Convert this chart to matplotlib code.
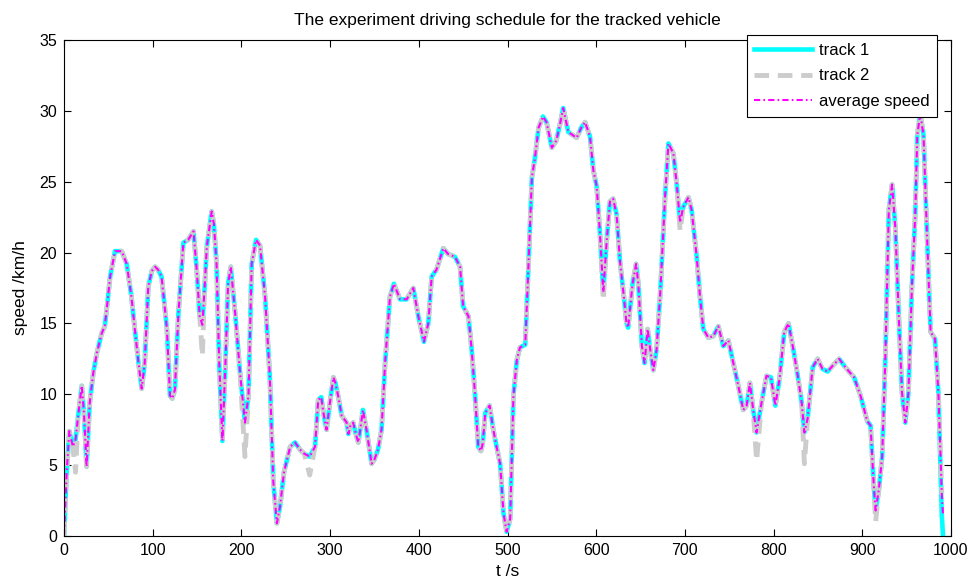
import numpy as np
import matplotlib.pyplot as plt

plt.rcParams['font.family'] = ['Liberation Sans', 'DejaVu Sans']

# time axis (s) and average speed (km/h)
time_s = [
    0, 3, 6, 10, 13, 16, 20, 22.5, 25.5, 29, 33, 37, 42.5, 46, 49, 52, 57.5, 65,
    70.7, 76, 80, 84, 87.6, 91, 95, 99, 102.6, 106, 110, 113, 116, 119.5, 122,
    125, 129, 134.6, 140, 146, 149.6, 153, 156, 158.5, 161, 166.5, 169, 172, 175,
    178.6, 182, 185, 188, 193, 198.5, 204, 208, 211.6, 216.5, 221, 226.7, 232,
    236, 240, 243.6, 248, 255, 260.5, 266, 271, 277, 283, 286.6, 290, 293, 296,
    300, 303.7, 306, 309, 313, 318.7, 320.6, 323, 326, 329, 331.8, 334, 337, 341,
    346.8, 350, 354, 358, 362, 367.5, 372, 378.8, 386.3, 393.8, 399.5, 405.8,
    410.7, 414.5, 420, 427.6, 433, 440.8, 446.5, 450, 456, 459.7, 463.5, 467,
    470, 472, 475, 479.8, 484, 488, 491.7, 495.5, 499, 503, 506.7, 510.5, 514,
    520, 523.7, 527.5, 531, 535, 540, 544, 550, 555, 559, 562.8, 568.6, 578, 583,
    587.4, 593, 596.8, 600.5, 604, 608, 611.8, 615.5, 619, 623, 626.8, 631, 634,
    636, 641, 645, 647.5, 651.5, 654.5, 658, 661, 664.4, 668, 672, 677.6, 681.4,
    687, 691, 694.6, 698, 704, 707.6, 713.3, 717, 720.8, 726.4, 732, 737.7,
    743.3, 749, 754.6, 760.2, 765.8, 769.6, 773.3, 777, 780.8, 786.4, 792, 797,
    802, 806.7, 812, 816.8, 821.6, 827, 831.7, 834.7, 838.4, 844, 849.6, 855,
    860.8, 866.4, 873.9, 881, 890.7, 898, 905.6, 909.3, 913, 915, 918.7, 922.4,
    926, 929.9, 933.6, 937.3, 941, 944.8, 948.5, 952, 956, 959.7, 962, 965.3,
    969, 972.8, 977, 982, 985.8, 989.6, 991]

speed_avg = [
    0, 4.5, 7.4, 6.3, 6.8, 8.5, 10.6, 8.7, 4.9, 9.4, 11.5, 12.9, 14.3, 14.8, 16.5,
    18.3, 20.1, 20.1, 19.2, 16.9, 14.5, 12.2, 10.4, 12.2, 17.6, 18.7, 19.0, 18.8,
    18.3, 16.5, 14.6, 9.9, 9.7, 10.3, 15.7, 20.7, 20.9, 21.5, 18.8, 15.5, 14.9,
    17.5, 20.4, 22.9, 22.0, 19.2, 12.2, 6.7, 12.2, 17.8, 19.0, 15.7, 11.5, 8.0,
    9.9, 19.2, 20.9, 20.5, 16.9, 11.3, 3.8, 0.9, 2.1, 4.5, 6.3, 6.6, 6.1, 5.8,
    5.6, 6.3, 9.6, 9.8, 8.5, 7.5, 9.5, 11.2, 10.8, 9.9, 8.5, 8.0, 7.2, 7.8, 8.0,
    7.2, 6.6, 7.5, 8.9, 7.5, 5.1, 5.4, 6.1, 7.5, 12.2, 16.9, 17.8, 16.7, 16.7,
    17.5, 15.5, 13.7, 15.0, 18.3, 18.8, 20.3, 19.9, 19.7, 19.0, 16.2, 15.5, 13.1,
    9.9, 6.3, 6.0, 6.5, 8.7, 9.2, 7.5, 6.2, 5.1, 1.6, 0.3, 1.2, 9.9, 12.4, 13.3,
    13.5, 19.2, 25.3, 26.7, 28.8, 29.6, 29.2, 27.4, 27.9, 29.0, 30.2, 28.5, 28.1,
    28.8, 29.2, 28.2, 25.8, 24.7, 21.6, 17.2, 20.8, 23.6, 23.8, 22.7, 19.4, 17.0,
    15.1, 14.7, 17.8, 19.2, 17.8, 13.4, 12.2, 14.6, 13.1, 11.7, 13.1, 16.9, 23.9,
    27.7, 27.0, 24.7, 22.1, 23.2, 23.9, 23.0, 19.7, 16.9, 14.6, 14.0, 14.1, 14.8,
    13.4, 13.8, 12.2, 10.6, 8.9, 9.2, 10.8, 8.9, 7.3, 9.4, 11.3, 11.2, 9.2, 11.1,
    14.4, 15.0, 13.4, 11.4, 9.4, 7.3, 8.3, 11.9, 12.5, 11.8, 11.6, 12.0, 12.5,
    11.9, 11.2, 9.9, 8.1, 7.8, 3.5, 1.8, 3.3, 5.6, 12.6, 23.0, 24.8, 21.7, 15.7,
    10.1, 8.0, 10.1, 17.7, 22.7, 28.3, 29.8, 28.3, 21.5, 14.4, 13.9, 10.1, 3.0,
    1.5]

# points where a track departs from the average (time -> speed)
track1_diff = {989.6: 1.5, 991: 0.0}
track2_diff = {13: 4.5, 156: 12.7, 204: 5.6, 277: 4.3, 608: 16.6, 694.6: 21.5,
               780.8: 5.3, 834.7: 5.1, 915: 1.0, 991: 3.0}

t = np.array(time_s)
avg = np.array(speed_avg)
track1 = avg.copy()
for k, v in track1_diff.items():
    track1[np.argmin(np.abs(t - k))] = v
track2 = avg.copy()
for k, v in track2_diff.items():
    track2[np.argmin(np.abs(t - k))] = v

fig = plt.figure(figsize=(9.69, 5.81), dpi=100)
ax = fig.add_axes([64 / 969, 45 / 581, 887 / 969, 496 / 581])

ax.plot(t, track1, color=(0, 1, 1), lw=3.3, label='track 1')
ax.plot(t, track2, color=(0.8, 0.8, 0.8), lw=3.5, dashes=(3, 1.8), label='track 2')
ax.plot(t, avg, color=(1, 0, 1), lw=1.5, dashes=(3, 1.5, 0.8, 1.5), label='average speed')

ax.set_xlim(0, 1000)
ax.set_ylim(0, 35)
ax.set_xticks(np.arange(0, 1001, 100))
ax.set_yticks(np.arange(0, 36, 5))
ax.tick_params(direction='in', top=True, right=True, length=5, labelsize=11.5, pad=5)
ax.set_title('The experiment driving schedule for the tracked vehicle', fontsize=12.5, pad=11)
ax.set_xlabel('t /s', fontsize=12.5, labelpad=4)
ax.set_ylabel('speed /km/h', fontsize=12.5, labelpad=8)

leg = ax.legend(loc='upper right', bbox_to_anchor=(0.9845, 1.01), fontsize=12,
                fancybox=False, framealpha=1, edgecolor='black', handlelength=3.5,
                borderpad=0.45, labelspacing=0.65, handletextpad=0.4, borderaxespad=0)
leg.get_frame().set_linewidth(0.8)

fig.savefig('out.png', dpi=100)
